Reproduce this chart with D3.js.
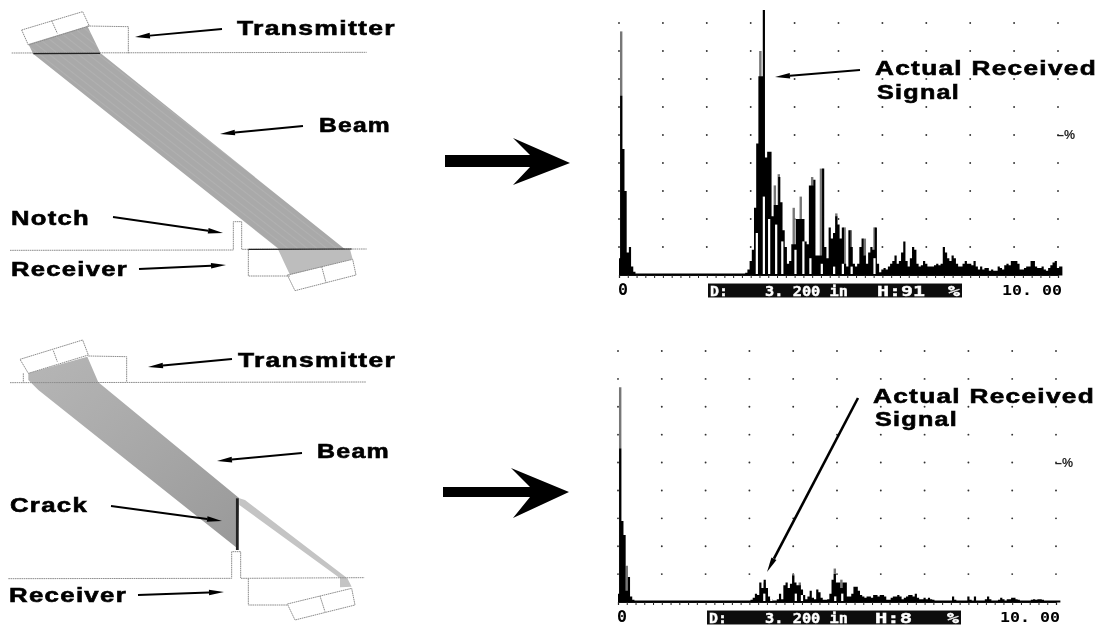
<!DOCTYPE html>
<html>
<head>
<meta charset="utf-8">
<script src="https://cdn.jsdelivr.net/npm/d3@7"></script>
<style>
  html, body { margin: 0; background: #fff; }
  text { font-family: "Liberation Sans", Arial, sans-serif; font-weight: bold; }
</style>
</head>
<body>
<div id="chart"></div>
<script>
// A-scan amplitudes (% of screen height), one reading every 0.05 along the 0-10 axis
const sampleStep = 0.05;

const topSignal = [6, 64, 45, 30, 8, 10, 3, 1.2,
    .5, .5, .5, .5, .5, .5, .5, .5, .5, .5, .5, .5, .5, .5, .5, .5, .5, .5, .5, .5, .5, .5, .5, .5, .5,
    .5, .5, .5, .5, .5, .5, .5, .5, .5, .5, .5, .5, .5, .5, .5, .5, .5, .5, .5, .5, .5, .5, .5, .5, .5,
    .8, 2, 5, 9, 24, 47, 71, 71, 94.6, 42, 44, 44, 21, 25, 25, 35, 26, 16, 10, 4, 5, 11,
    11, 20, 20, 20, 20, 12, 11, 32, 32, 34, 7, 7, 7, 38, 10, 6, 17, 13, 15, 21,
    18, 13, 17, 4, 3, 16, 10, 4, 3, 4, 10, 13, 7, 4, 8, 10, 9, 17, 4, 1,
    2, 2.5, 2, 3, 4, 5, 7, 4, 5, 8, 12, 5, 3, 6, 10, 9, 4, 3, 3.5, 5,
    4, 3, 3, 3, 3.5, 4, 3.5, 4, 10, 8, 6, 5, 7, 6, 4, 3, 3, 4, 5, 4,
    4, 3.5, 5, 3, 2, 3, 2, 2.5, 2.5, 1.5, 2, 1.5, 1.5, 3, 2.5, 2, 3.5, 4, 3.5, 5,
    5, 5, 4, 2, 2, 2.5, 3, 3, 5, 5, 3, 2.5, 2.5, 3, 2, 1.5, 2.5, 3.5, 4.5, 5,
    2.5, 3, 3];

const bottomSignal = [3, 55, 29, 24, 4, 9, 2, .8,
    .5, .5, .5, .5, .5, .5, .5, .5, .5, .5, .5, .5, .5, .5, .5, .5, .5, .5, .5, .5, .5, .5, .5, .5, .5,
    .5, .5, .5, .5, .5, .5, .5, .5, .5, .5, .5, .5, .5, .5, .5, .5, .5, .5, .5, .5, .5, .5, .5, .5, .5,
    .5, .5, .5, .8, 1.5, 3, 2.5, 7, 5, 8, 5, 2, 1, .5, .5, 1, 3, 1, 6, 7, 5, 6.5,
    9.5, 7, 6, 6, 4.5, 2.5, 1, 2, 4, 1.5, 1, 4.5, 3.5, 1.5, .8, .8, 1, 3, 8, 10,
    7, 7, 5, 7, 7, 2, 2, 3, 5.5, 5.5, 4, 2.5, 2, 1.5, 2, 2, 1.5, 2.5, 2.5, 2,
    2.5, 2.5, 2, .8, .8, 1.5, 2, 2, 2.5, 2, 1, 1.5, 2, 2.5, 2.5, 2, 3, 1.5, 1, 1,
    1.5, 1, 1.5, 1, .8, .5, .5, .5, .5, .5, .5, .5, .5, 2, .8, .5, .5, .5, .5, .5,
    2, .8, .5, 2, .5, .5, .5, .5, 1, 2, 1, .5, .5, .5, .8, 1.5, 1, .5, 1, 1,
    1.5, 1.5, 1, .8, .5, .5, .5, .5, .5, .8, 1, .8, 1, 1, .8, .5, .5, .5, .5, .5,
    .5, .5, .5];

// grey hatched spikes that rise above the black trace
const topSpikePos = [0.05, 3.22, 3.34, 3.55, 3.64, 3.98, 4.14, 4.4, 4.6, 4.95, 5.14, 5.28, 5.6, 5.82];
const topSpikeAmp = [87, 80, 29, 32, 36, 24, 28, 35, 38, 22, 17, 16, 13, 17];
const bottomSpikePos = [0.05, 0.2, 3.35, 4.0, 4.15, 4.95, 5.1];
const bottomSpikeAmp = [77, 13, 7, 10, 7, 12, 8];

// white gaps that break the trace near the baseline
const topGapPos = [3.14, 3.3, 3.42, 3.58, 3.72, 4.02, 4.2, 4.36, 4.62, 4.9, 5.1, 5.3, 5.82];
const topGapAmp = [15, 28, 20, 18, 12, 9, 12, 6, 4, 3, 4, 3, 6];
const bottomGapPos = [3.34, 3.5, 4.06, 4.2, 4.96, 5.12];
const bottomGapAmp = [3, 2, 3, 2.5, 2, 3];

const xDivisions = d3.range(0, 11);
const yDivisions = d3.range(0, 10);
const minorTicks = d3.range(0, 10.01, 0.2);

const width = 1106;
const height = 627;

const svg = d3.select("#chart").append("svg")
    .attr("width", width)
    .attr("height", height)
    .attr("viewBox", [0, 0, width, height])
    .style("display", "block");

const defs = svg.append("defs");
defs.append("filter").attr("id", "soft")
    .append("feGaussianBlur").attr("stdDeviation", 0.7);
defs.append("filter").attr("id", "softer")
    .append("feGaussianBlur").attr("stdDeviation", 0.6);

const hatch = defs.append("pattern").attr("id", "hatch")
    .attr("width", 6).attr("height", 6)
    .attr("patternUnits", "userSpaceOnUse")
    .attr("patternTransform", "rotate(38)");
hatch.append("rect").attr("width", 6).attr("height", 6).attr("fill", "#a9a9a9");
hatch.append("rect").attr("width", 6).attr("height", 1).attr("fill", "#b1b1b1");

const fade = defs.append("linearGradient").attr("id", "fade")
    .attr("x1", 0).attr("y1", 0).attr("x2", 1).attr("y2", 1);
fade.append("stop").attr("offset", 0).attr("stop-color", "#b6b6b6");
fade.append("stop").attr("offset", 0.4).attr("stop-color", "#ababab");
fade.append("stop").attr("offset", 1).attr("stop-color", "#999999");

const g = svg.append("g").attr("filter", "url(#soft)");

function drawScope(cfg) {
    const x = d3.scaleLinear([0, 10], [cfg.x0, cfg.x1]);
    const y = d3.scaleLinear([0, 90], [cfg.y0, cfg.y1]);
    const s = g.append("g");

    // dotted graticule
    s.append("g").selectAll("circle")
        .data(d3.cross(xDivisions, yDivisions.slice(1)))
        .join("circle")
        .attr("cx", d => x(d[0]))
        .attr("cy", d => y(d[1] * 10))
        .attr("r", 0.95)
        .attr("fill", "#333");

    // hatched spikes
    s.append("g").selectAll("rect")
        .data(cfg.spikePos)
        .join("rect")
        .attr("x", d => x(d) - 1.2)
        .attr("width", 2.4)
        .attr("y", (d, i) => y(cfg.spikeAmp[i]))
        .attr("height", (d, i) => y(0) - y(cfg.spikeAmp[i]))
        .attr("fill", "#777");

    // the trace itself
    const trace = d3.area()
        .curve(d3.curveStep)
        .x((d, i) => x(i * sampleStep))
        .y0(y(0) + 0.6)
        .y1(d => y(d));
    s.append("path").attr("d", trace(cfg.signal)).attr("fill", "#050505");

    s.append("g").selectAll("rect")
        .data(cfg.gapPos)
        .join("rect")
        .attr("x", d => x(d) - 1.1)
        .attr("width", 2.2)
        .attr("y", (d, i) => y(cfg.gapAmp[i]))
        .attr("height", (d, i) => y(0) - y(cfg.gapAmp[i]) - 1)
        .attr("fill", "#fff");

    // baseline with minor ticks
    const axis = d3.axisBottom(x).tickValues(minorTicks).tickSize(3).tickFormat("");
    const ax = s.append("g").attr("transform", `translate(0,${cfg.y0})`).call(axis);
    ax.select(".domain").attr("stroke", "#111").attr("stroke-width", 1.2);
    ax.selectAll(".tick line").attr("stroke", "#222");

    const mono = "'DejaVu Sans Mono', monospace";
    s.append("text").attr("x", x(0) - 1).attr("y", cfg.y0 + 20)
        .attr("textLength", 10).attr("lengthAdjust", "spacingAndGlyphs")
        .style("font-family", mono).style("font-size", "15px").text("0");
    s.append("text").attr("x", x(10) - 56).attr("y", cfg.y0 + 19.5)
        .attr("textLength", 60).attr("lengthAdjust", "spacingAndGlyphs")
        .style("font-family", mono).style("font-size", "14px").text("10. 00");

    // readout strip
    s.append("rect").attr("x", cfg.x0 + 89).attr("y", cfg.y0 + 8.5)
        .attr("width", 254).attr("height", 14).attr("fill", "#111");
    const r = s.append("g").attr("filter", "url(#softer)");
    r.selectAll("text").data(cfg.readout).join("text")
        .attr("x", d => d[1] + cfg.x0)
        .attr("y", cfg.y0 + 20.5)
        .attr("textLength", d => d[2])
        .attr("lengthAdjust", "spacingAndGlyphs")
        .attr("fill", "#fff")
        .attr("stroke", "#fff")
        .attr("stroke-width", 0.4)
        .style("font-family", mono)
        .style("font-size", "14px")
        .text(d => d[0]);

    s.append("text").attr("x", cfg.x1 - 1).attr("y", y(50) + 4)
        .attr("textLength", 18).attr("lengthAdjust", "spacingAndGlyphs")
        .style("font-size", "13px").attr("fill", "#222").text("–%");
}

drawScope({x0: 619, x1: 1058, y0: 275, y1: 23, signal: topSignal,
    readout: [["D:", 91, 18], ["3. 200 in", 146, 83], ["H:91", 258, 48], ["%", 329, 12]],
    spikePos: topSpikePos, spikeAmp: topSpikeAmp, gapPos: topGapPos, gapAmp: topGapAmp});
drawScope({x0: 618, x1: 1056, y0: 602, y1: 351, signal: bottomSignal,
    readout: [["D:", 91, 18], ["3. 200 in", 147, 83], ["H:8", 257, 37], ["%", 329, 12]],
    spikePos: bottomSpikePos, spikeAmp: bottomSpikeAmp, gapPos: bottomGapPos, gapAmp: bottomGapAmp});

// schematics: outlines in the 3x units they were measured in
const sx = d3.scaleLinear([0, 3], [0, 1]);
const sy = d3.scaleLinear([0, 3], [0, 1]);
const pathOf = (pts, close) => d3.line().x(d => sx(d[0])).y(d => sy(d[1]))(pts) + (close ? "Z" : "");

function outline(layer, pts, colour, w) {
    layer.append("path").attr("d", pathOf(pts, false))
        .attr("fill", "none")
        .attr("stroke", colour || "#8c8c8c")
        .attr("stroke-width", w || 1)
        .attr("stroke-dasharray", colour ? null : "1.6 0.6");
}

function drawBlock(off, shapes) {
    const b = g.append("g").attr("transform", `translate(0,${off})`);
    shapes.beams.forEach(p => b.append("path").attr("d", pathOf(p.pts, true)).attr("fill", p.fill));
    shapes.outlines.forEach(p => outline(b, p));
    shapes.solid.forEach(p => outline(b, p.pts, p.colour, p.w));
}

drawBlock(0, {
    beams: [
        {pts: [[85, 132], [262, 78], [302, 160], [1035, 748], [840, 750], [100, 162]], fill: "url(#hatch)"},
        {pts: [[835, 750], [1050, 748], [1058, 778], [870, 825]], fill: "#bdbdbd"}
    ],
    outlines: [
        [[35, 159], [1100, 157]],
        [[262, 78], [385, 80], [385, 160]],
        [[65, 90], [248, 35], [268, 78], [85, 135], [65, 90]],
        [[155, 62], [172, 100]],
        [[30, 751], [700, 750], [700, 665], [725, 665], [725, 748], [1100, 747]],
        [[745, 750], [745, 828], [870, 828]],
        [[862, 825], [1058, 778], [1068, 825], [885, 872], [862, 825]],
        [[965, 800], [978, 848]]
    ],
    solid: [
        {pts: [[100, 161], [300, 160]], colour: "#222", w: 1.2},
        {pts: [[745, 748], [1055, 747]], colour: "#222", w: 1.2}
    ]
});

drawBlock(330, {
    beams: [
        {pts: [[85, 130], [262, 80], [295, 157], [718, 505], [712, 655], [115, 180], [85, 150]], fill: "url(#fade)"},
        {pts: [[718, 505], [735, 510], [1042, 745], [1055, 770], [1020, 772], [1020, 745], [718, 525]], fill: "#c4c4c4"}
    ],
    outlines: [
        [[30, 158], [1098, 156]],
        [[265, 78], [380, 80], [380, 155]],
        [[60, 88], [248, 30], [265, 75], [85, 130], [60, 88]],
        [[70, 130], [70, 157]],
        [[160, 62], [172, 95]],
        [[25, 746], [695, 745], [695, 665], [722, 665], [722, 745], [1093, 743]],
        [[745, 745], [745, 825], [862, 825]],
        [[862, 822], [1055, 775], [1065, 825], [885, 870], [862, 822]],
        [[960, 798], [975, 845]]
    ],
    solid: [
        {pts: [[712, 505], [712, 660]], colour: "#222", w: 2.8}
    ]
});

// thin pointer arrows with a long narrow head
function pointer(x0, y0, x1, y1, w) {
    const a = Math.atan2(y1 - y0, x1 - x0);
    const ux = Math.cos(a), uy = Math.sin(a);
    const len = 15, half = 2.8;
    const bx = x1 - ux * len, by = y1 - uy * len;
    g.append("line").attr("x1", x0).attr("y1", y0).attr("x2", bx).attr("y2", by)
        .attr("stroke", "#000").attr("stroke-width", w);
    g.append("path")
        .attr("d", d3.line()([[x1, y1], [bx - uy * half, by + ux * half], [bx + uy * half, by - ux * half]]) + "Z")
        .attr("fill", "#000");
}

const pointers = [
    [222, 29, 135, 37], [303, 126, 220, 134], [113, 217, 223, 233], [139, 269, 226, 265],
    [232, 359, 148, 367], [302, 453, 217, 461], [111, 506, 222, 521], [138, 595, 224, 592],
    [860, 70, 775, 77], [858, 398, 767, 572]
];
pointers.forEach((p, i) => pointer(p[0], p[1], p[2], p[3], i === 9 ? 2.6 : 2));

// big block arrows between the schematics and the scopes
const bigArrows = [
    [[445, 155], [530, 155], [513, 138], [570, 163], [513, 185], [530, 167], [445, 167]],
    [[443, 487], [530, 487], [511, 468], [569, 492], [513, 518], [530, 497], [443, 497]]
];
g.selectAll(".bigarrow").data(bigArrows).join("path")
    .attr("class", "bigarrow")
    .attr("d", d => d3.line()(d) + "Z")
    .attr("fill", "#000");

// labels: text, left, baseline, drawn width
const labels = [
    ["Transmitter", 237, 35, 159], ["Beam", 319, 132, 72], ["Notch", 11, 225, 79], ["Receiver", 11, 276, 117],
    ["Transmitter", 238, 367, 158], ["Beam", 317, 458, 73], ["Crack", 10, 512, 78], ["Receiver", 9, 602, 118],
    ["Actual Received", 875, 75, 222], ["Signal", 877, 99, 83],
    ["Actual Received", 873, 403, 222], ["Signal", 875, 426, 83]
];
g.selectAll(".label").data(labels).join("text")
    .attr("class", "label")
    .attr("x", d => d[1])
    .attr("y", d => d[2])
    .attr("textLength", d => d[3])
    .attr("lengthAdjust", "spacingAndGlyphs")
    .attr("fill", "#000")
    .attr("stroke", "#000")
    .attr("stroke-width", 0.6)
    .style("font-size", "20px")
    .style("letter-spacing", "1px")
    .text(d => d[0]);
</script>
</body>
</html>
